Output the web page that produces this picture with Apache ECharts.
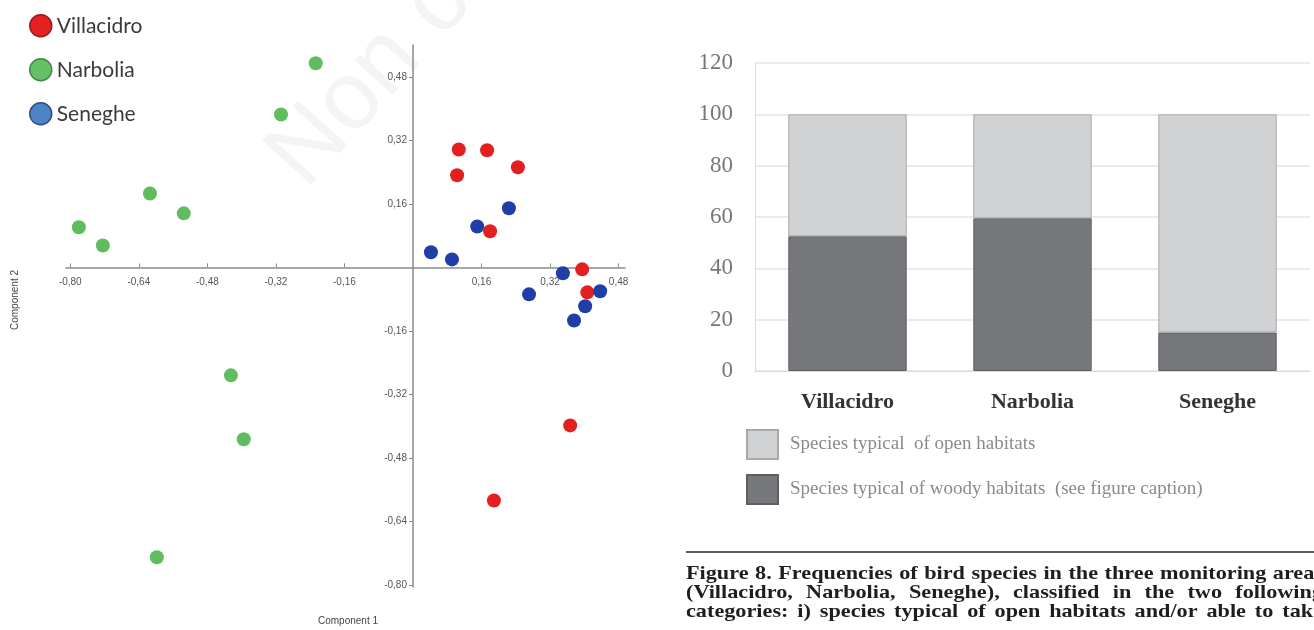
<!DOCTYPE html>
<html>
<head>
<meta charset="utf-8">
<script src="https://cdn.jsdelivr.net/npm/echarts@6/dist/echarts.min.js"></script>
<style>
html,body{margin:0;padding:0;background:#fff;}
#chart{width:1314px;height:630px;}
</style>
</head>
<body>
<div id="chart"></div>
<script>
// ---- Scatter (PCA) data: [Component 1, Component 2]
const villacidro = [[0.107,0.297],[0.173,0.295],[0.103,0.232],[0.245,0.252],[0.180,0.091],[0.395,-0.005],[0.407,-0.063],[0.367,-0.398],[0.189,-0.587]];
const narbolia = [[-0.227,0.514],[-0.308,0.385],[-0.614,0.186],[-0.535,0.136],[-0.780,0.101],[-0.724,0.055],[-0.425,-0.272],[-0.395,-0.433],[-0.598,-0.730]];
const seneghe = [[0.042,0.038],[0.091,0.020],[0.150,0.103],[0.224,0.149],[0.271,-0.068],[0.350,-0.015],[0.437,-0.060],[0.402,-0.098],[0.376,-0.134]];
const xTicks = [-0.80,-0.64,-0.48,-0.32,-0.16,0.16,0.32,0.48];
const yTicks = [0.48,0.32,0.16,-0.16,-0.32,-0.48,-0.64,-0.80];

// ---- Bar chart data
const areas = ['Villacidro','Narbolia','Seneghe'];
const woody = [52.5, 59.5, 15];
const open = [47.5, 40.5, 85];
const openName = 'Species typical  of open habitats';
const woodyName = 'Species typical of woody habitats  (see figure caption)';

const captionLines = [
  'Figure 8. Frequencies of bird species in the three monitoring areas',
  '(Villacidro, Narbolia, Seneghe), classified in the two following',
  'categories: i) species typical of open habitats and/or able to take'
];

const fmt = v => (Math.round(v*100)/100).toFixed(2).replace('.', ',');
const chart = echarts.init(document.getElementById('chart'));
const serif = '"Liberation Serif", "DejaVu Serif", serif';

// scatter grid geometry and axis offsets so the axes cross at zero
const G0 = {left: 66, right: 689, top: 45, bottom: 43};
const xMin = -0.81, xMax = 0.495, yMin = -0.805, yMax = 0.56;
const gw = 1314 - G0.left - G0.right, gh = 630 - G0.top - G0.bottom;
const zeroX = G0.left + (0 - xMin) / (xMax - xMin) * gw;
const zeroY = G0.top + (yMax - 0) / (yMax - yMin) * gh;
const xAxisOffset = -((630 - G0.bottom) - zeroY);
const yAxisOffset = -(zeroX - G0.left);

// justified caption (typesetting only)
const capFontSize = 19, capScale = 1.17, capLeft = 686, capRight = 1323;
const capY = [574, 593, 612];
const mctx = document.createElement('canvas').getContext('2d');
mctx.font = 'bold ' + capFontSize + 'px "Liberation Serif"';
const captionGraphics = [];
captionLines.forEach((line, i) => {
  const words = line.split(' ');
  const ws = words.map(w => mctx.measureText(w).width * capScale);
  const total = ws.reduce((a, b) => a + b, 0);
  const gap = (capRight - capLeft - total) / (words.length - 1);
  let x = capLeft;
  words.forEach((w, j) => {
    captionGraphics.push({type: 'text', x: x, y: capY[i], scaleX: capScale,
      style: {text: w, fontFamily: serif, fontWeight: 'bold', fontSize: capFontSize, fill: '#1e1e1e', textVerticalAlign: 'middle'}});
    x += ws[j] + gap;
  });
});

const option = {
  backgroundColor: '#ffffff',
  animation: false,
  grid: [
    Object.assign({outerBoundsMode: 'none'}, G0),
    {left: 755, right: 4, top: 63, bottom: 259, outerBoundsMode: 'none'}
  ],
  legend: [
    {
      orient: 'vertical', left: 24, top: 9, itemWidth: 22, itemHeight: 22, itemGap: 20.5,
      icon: 'circle', selectedMode: false,
      textStyle: {fontFamily: 'Lato', fontSize: 21, color: '#3a3a3a', lineHeight: 22},
      data: [
        {name: 'Villacidro', itemStyle: {color: '#e3211f', borderColor: '#9a1a18', borderWidth: 1.5}},
        {name: 'Narbolia', itemStyle: {color: '#66c068', borderColor: '#3f8a45', borderWidth: 1.5}},
        {name: 'Seneghe', itemStyle: {color: '#4f83c8', borderColor: '#2e5180', borderWidth: 1.5}}
      ]
    },
    {
      orient: 'vertical', left: 741, top: 424, itemWidth: 31, itemHeight: 29, itemGap: 14,
      icon: 'rect', selectedMode: false,
      textStyle: {fontFamily: serif, fontSize: 19, color: '#8a8a8a', padding: [0,0,0,7]},
      data: [openName, woodyName]
    }
  ],
  xAxis: [
    {
      type: 'value', gridIndex: 0, min: xMin, max: xMax, position: 'bottom', offset: xAxisOffset,
      axisLine: {show: true, onZero: false, lineStyle: {color: '#8a8a8a', width: 1.5}},
      axisTick: {show: true, inside: true, length: 4, customValues: xTicks, lineStyle: {color: '#8a8a8a'}},
      axisLabel: {customValues: xTicks, formatter: fmt, fontFamily: '"Liberation Sans", Arial', fontSize: 10, color: '#555', margin: 10},
      splitLine: {show: false}
    },
    {
      type: 'category', gridIndex: 1, data: areas,
      axisLine: {show: true, lineStyle: {color: '#dcdcdc'}},
      axisTick: {show: false},
      axisLabel: {fontFamily: serif, fontWeight: 'bold', fontSize: 22, color: '#333', margin: 20}
    }
  ],
  yAxis: [
    {
      type: 'value', gridIndex: 0, min: yMin, max: yMax, position: 'left', offset: yAxisOffset,
      axisLine: {show: true, onZero: false, lineStyle: {color: '#8a8a8a', width: 1.5}},
      axisTick: {show: true, length: 4, customValues: yTicks, lineStyle: {color: '#8a8a8a'}},
      axisLabel: {customValues: yTicks, formatter: fmt, fontFamily: '"Liberation Sans", Arial', fontSize: 10, color: '#555', margin: 6},
      splitLine: {show: false}
    },
    {
      type: 'value', gridIndex: 1, min: 0, max: 120, interval: 20,
      axisLine: {show: true, lineStyle: {color: '#dcdcdc'}},
      axisTick: {show: false},
      axisLabel: {fontFamily: serif, fontSize: 23, color: '#777', margin: 22},
      splitLine: {show: true, lineStyle: {color: '#e4e4e4', width: 1.5}}
    }
  ],
  series: [
    {name: 'Villacidro', type: 'scatter', xAxisIndex: 0, yAxisIndex: 0, data: villacidro, symbolSize: 14, itemStyle: {color: '#e3201f', opacity: 1}},
    {name: 'Narbolia', type: 'scatter', xAxisIndex: 0, yAxisIndex: 0, data: narbolia, symbolSize: 14, itemStyle: {color: '#5fbd5f', opacity: 1}},
    {name: 'Seneghe', type: 'scatter', xAxisIndex: 0, yAxisIndex: 0, data: seneghe, symbolSize: 14, itemStyle: {color: '#1f3ea6', opacity: 1}},
    {name: woodyName, type: 'bar', stack: 'tot', xAxisIndex: 1, yAxisIndex: 1, data: woody, barCategoryGap: '36%',
      itemStyle: {color: '#77787c', borderColor: '#5e5f63', borderWidth: 1}},
    {name: openName, type: 'bar', stack: 'tot', xAxisIndex: 1, yAxisIndex: 1, data: open, barCategoryGap: '36%',
      itemStyle: {color: '#d1d2d4', borderColor: '#a8a9ac', borderWidth: 1}}
  ],
  graphic: [
    {type: 'text', x: 322, y: 205, rotation: 48*Math.PI/180, z: -10,
      style: {text: 'Non co', fontFamily: '"Liberation Sans", Arial', fontSize: 96, fill: '#f4f4f4', textVerticalAlign: 'bottom'}},
    {type: 'text', x: 348, y: 621, style: {text: 'Component 1', fontFamily: '"Liberation Sans", Arial', fontSize: 10, fill: '#444', textAlign: 'center', textVerticalAlign: 'middle'}},
    {type: 'text', x: 15, y: 300, rotation: Math.PI/2, style: {text: 'Component 2', fontFamily: '"Liberation Sans", Arial', fontSize: 10, fill: '#444', textAlign: 'center', textVerticalAlign: 'middle'}},
    {type: 'line', shape: {x1: 686, y1: 552, x2: 1314, y2: 552}, style: {stroke: '#5a5a5a', lineWidth: 2}}
  ].concat(captionGraphics)
};
chart.setOption(option);
</script>
</body>
</html>
